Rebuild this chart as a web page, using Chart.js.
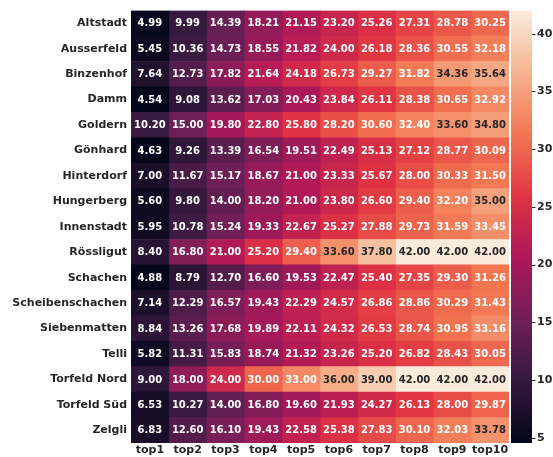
<!DOCTYPE html>
<html lang="de">
<head>
    <meta charset="UTF-8">
    <title>Heatmap</title>
    <style>
        html, body { margin: 0; padding: 0; background: #fff; }
    </style>
</head>
<body>
    <canvas id="heatmap" width="553" height="457"></canvas>
    <script src="https://cdn.jsdelivr.net/npm/chart.js"></script>
    <script>
    // rows / columns of the heatmap
    const districts = ['Altstadt', 'Ausserfeld', 'Binzenhof', 'Damm', 'Goldern', 'Gönhard', 'Hinterdorf',
        'Hungerberg', 'Innenstadt', 'Rössligut', 'Schachen', 'Scheibenschachen', 'Siebenmatten',
        'Telli', 'Torfeld Nord', 'Torfeld Süd', 'Zelgli'];
    const columns = ['top1', 'top2', 'top3', 'top4', 'top5', 'top6', 'top7', 'top8', 'top9', 'top10'];
    const values = [
        [4.99, 9.99, 14.39, 18.21, 21.15, 23.20, 25.26, 27.31, 28.78, 30.25],
        [5.45, 10.36, 14.73, 18.55, 21.82, 24.00, 26.18, 28.36, 30.55, 32.18],
        [7.64, 12.73, 17.82, 21.64, 24.18, 26.73, 29.27, 31.82, 34.36, 35.64],
        [4.54, 9.08, 13.62, 17.03, 20.43, 23.84, 26.11, 28.38, 30.65, 32.92],
        [10.20, 15.00, 19.80, 22.80, 25.80, 28.20, 30.60, 32.40, 33.60, 34.80],
        [4.63, 9.26, 13.39, 16.54, 19.51, 22.49, 25.13, 27.12, 28.77, 30.09],
        [7.00, 11.67, 15.17, 18.67, 21.00, 23.33, 25.67, 28.00, 30.33, 31.50],
        [5.60, 9.80, 14.00, 18.20, 21.00, 23.80, 26.60, 29.40, 32.20, 35.00],
        [5.95, 10.78, 15.24, 19.33, 22.67, 25.27, 27.88, 29.73, 31.59, 33.45],
        [8.40, 16.80, 21.00, 25.20, 29.40, 33.60, 37.80, 42.00, 42.00, 42.00],
        [4.88, 8.79, 12.70, 16.60, 19.53, 22.47, 25.40, 27.35, 29.30, 31.26],
        [7.14, 12.29, 16.57, 19.43, 22.29, 24.57, 26.86, 28.86, 30.29, 31.43],
        [8.84, 13.26, 17.68, 19.89, 22.11, 24.32, 26.53, 28.74, 30.95, 33.16],
        [5.82, 11.31, 15.83, 18.74, 21.32, 23.26, 25.20, 26.82, 28.43, 30.05],
        [9.00, 18.00, 24.00, 30.00, 33.00, 36.00, 39.00, 42.00, 42.00, 42.00],
        [6.53, 10.27, 14.00, 16.80, 19.60, 21.93, 24.27, 26.13, 28.00, 29.87],
        [6.83, 12.60, 16.10, 19.43, 22.58, 25.38, 27.83, 30.10, 32.03, 33.78]
    ];
    const colorbarStep = 5;

    const allValues = values.flat();
    const vmin = Math.min(...allValues);
    const vmax = Math.max(...allValues);

    // seaborn "rocket" approximation
    const rocket = [
        [0.000, '#03051a'], [0.143, '#35193e'], [0.286, '#701f57'], [0.429, '#ad1759'],
        [0.571, '#e13342'], [0.714, '#f37651'], [0.857, '#f6b48f'], [1.000, '#faebdd']
    ];
    function hexRgb(h) {
        return [parseInt(h.slice(1, 3), 16), parseInt(h.slice(3, 5), 16), parseInt(h.slice(5, 7), 16)];
    }
    function cmap(t) {
        t = Math.max(0, Math.min(1, t));
        for (let i = 1; i < rocket.length; i++) {
            if (t <= rocket[i][0]) {
                const [p0, c0] = rocket[i - 1], [p1, c1] = rocket[i];
                const f = (t - p0) / (p1 - p0);
                const a = hexRgb(c0), b = hexRgb(c1);
                return `rgb(${a.map((v, k) => Math.round(v + (b[k] - v) * f)).join(',')})`;
            }
        }
        return rocket[rocket.length - 1][1];
    }
    const colorFor = v => cmap((v - vmin) / (vmax - vmin));

    const font = { family: "'DejaVu Sans', sans-serif", size: 11, weight: 'bold' };
    const textDark = '#262626';

    const datasets = columns.map((col, j) => ({
        label: col,
        data: districts.map(() => [j, j + 1]),
        backgroundColor: districts.map((d, i) => colorFor(values[i][j])),
        borderWidth: 0,
        barPercentage: 1,
        categoryPercentage: 1,
        grouped: false,
        xAxisID: 'x',
        yAxisID: 'y'
    }));

    const cellLabels = {
        id: 'cellLabels',
        afterDatasetsDraw(chart) {
            const ctx = chart.ctx;
            ctx.save();
            ctx.font = "bold 10px 'DejaVu Sans', sans-serif";
            ctx.textAlign = 'center';
            ctx.textBaseline = 'middle';
            chart.data.datasets.forEach((ds, j) => {
                chart.getDatasetMeta(j).data.forEach((bar, i) => {
                    const p = bar.getProps(['x', 'y', 'base'], true);
                    const v = values[i][j];
                    ctx.fillStyle = v > 33.5 ? textDark : '#ffffff';
                    ctx.fillText(v.toFixed(2), (p.x + p.base) / 2, p.y + 0.5);
                });
            });
            ctx.restore();
        }
    };

    const colorbar = {
        id: 'colorbar',
        afterDraw(chart) {
            const s = chart.scales.cb;
            const ctx = chart.ctx;
            const x0 = s.left + 2, w = 21;
            const top = s.getPixelForValue(vmax), bottom = s.getPixelForValue(vmin);
            const grad = ctx.createLinearGradient(0, bottom, 0, top);
            for (let k = 0; k <= 40; k++) grad.addColorStop(k / 40, cmap(k / 40));
            ctx.save();
            ctx.fillStyle = grad;
            ctx.fillRect(x0, top, w, bottom - top);
            ctx.strokeStyle = textDark;
            ctx.lineWidth = 1;
            s.ticks.forEach(t => {
                const py = Math.round(s.getPixelForValue(t.value)) + 0.5;
                ctx.beginPath();
                ctx.moveTo(x0 + w, py);
                ctx.lineTo(x0 + w + 3.5, py);
                ctx.stroke();
            });
            ctx.restore();
        }
    };

    new Chart(document.getElementById('heatmap'), {
        type: 'bar',
        data: { labels: districts, datasets: datasets },
        options: {
            indexAxis: 'y',
            responsive: false,
            animation: false,
            devicePixelRatio: 1,
            layout: { autoPadding: false, padding: { top: 5, left: 0, right: 0, bottom: 0 } },
            plugins: { legend: { display: false }, tooltip: { enabled: false } },
            scales: {
                x: {
                    type: 'linear',
                    position: 'bottom',
                    min: 0,
                    max: columns.length,
                    offset: false,
                    grid: { display: false, drawTicks: false },
                    border: { display: false },
                    afterBuildTicks: s => { s.ticks = columns.map((c, j) => ({ value: j + 0.5 })); },
                    afterFit: s => { s.height = 14; },
                    ticks: {
                        autoSkip: false, maxRotation: 0, padding: 1,
                        color: textDark, font: font,
                        callback: (v, idx) => columns[idx]
                    }
                },
                y: {
                    type: 'category',
                    position: 'left',
                    offset: true,
                    grid: { display: false, drawTicks: false },
                    border: { display: false },
                    afterFit: s => { s.width = 131; },
                    ticks: { autoSkip: false, padding: 4, color: textDark, font: font }
                },
                cb: {
                    type: 'linear',
                    position: 'right',
                    offset: false,
                    min: vmin,
                    max: vmax,
                    grid: {
                        display: true, offset: false, drawOnChartArea: false, drawTicks: true,
                        tickLength: 24, color: 'rgba(0,0,0,0)'
                    },
                    border: { display: false },
                    afterFit: s => { s.width = 44; },
                    ticks: {
                        stepSize: colorbarStep, includeBounds: false, padding: 4,
                        color: textDark, font: font
                    }
                }
            }
        },
        plugins: [cellLabels, colorbar]
    });
    </script>
</body>
</html>
